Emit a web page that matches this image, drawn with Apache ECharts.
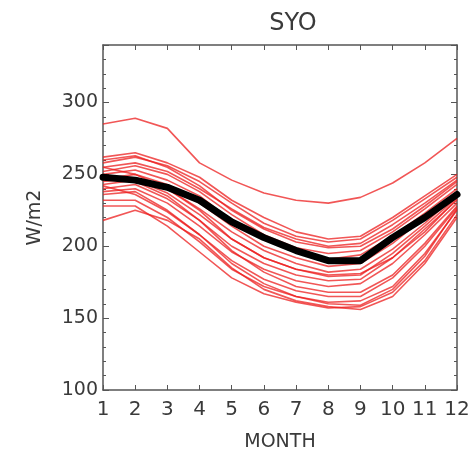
<!DOCTYPE html>
<html>
<head>
<meta charset="utf-8">
<script src="https://cdn.jsdelivr.net/npm/echarts@6/dist/echarts.min.js"></script>
<style>
  html, body { margin: 0; padding: 0; background: #fff; }
  #chart { width: 473px; height: 452px; }
</style>
</head>
<body>
<div id="chart"></div>
<script>
const months = [1, 2, 3, 4, 5, 6, 7, 8, 9, 10, 11, 12]
const yTicks = [100, 150, 200, 250, 300]

// individual members (red)
const members = [
  [285, 289, 282, 258, 246, 237, 232, 230, 234, 244, 258, 275],
  [262, 265, 258, 248, 232, 220, 210, 205, 207, 220, 235, 250],
  [258, 262, 256, 245, 230, 216, 207, 203, 205, 218, 233, 248],
  [255, 258, 252, 240, 226, 213, 205, 200, 202, 215, 230, 246],
  [260, 263, 255, 242, 225, 212, 203, 199, 200, 212, 228, 245],
  [252, 256, 250, 238, 222, 208, 199, 195, 197, 210, 226, 243],
  [250, 253, 246, 235, 218, 205, 196, 191, 194, 207, 223, 240],
  [247, 250, 243, 230, 214, 200, 192, 186, 188, 202, 220, 238],
  [245, 247, 240, 226, 210, 197, 188, 182, 184, 198, 216, 236],
  [243, 246, 237, 222, 205, 192, 184, 179, 180, 195, 214, 234],
  [240, 243, 233, 218, 200, 188, 180, 176, 177, 192, 212, 232],
  [238, 240, 230, 214, 196, 184, 176, 172, 174, 188, 208, 230],
  [248, 245, 235, 218, 197, 182, 172, 168, 168, 180, 202, 228],
  [236, 238, 225, 208, 190, 177, 169, 165, 165, 178, 200, 227],
  [232, 232, 220, 203, 184, 172, 165, 161, 162, 172, 195, 225],
  [228, 228, 214, 196, 178, 167, 161, 157, 158, 168, 190, 222],
  [218, 225, 218, 205, 185, 170, 162, 158, 156, 165, 188, 220],
  [242, 236, 224, 208, 188, 174, 165, 160, 159, 170, 193, 226],
  [255, 250, 240, 225, 205, 192, 184, 180, 181, 192, 210, 233]
]

// ensemble mean (black)
const mean = [248, 246, 241, 232, 217, 206, 197, 190, 190, 206, 220, 236]

const font = 'DejaVu Sans'
const axisColor = '#555'
const textColor = '#3a3a3a'

const series = members.map(function (m) {
  return {
    type: 'line',
    data: months.map(function (x, i) { return [x, m[i]] }),
    showSymbol: false,
    lineStyle: { color: 'rgba(236, 30, 30, 0.75)', width: 1.6 },
    silent: true
  }
})
series.push({
  type: 'line',
  data: months.map(function (x, i) { return [x, mean[i]] }),
  showSymbol: false,
  lineStyle: { color: '#000', width: 7, cap: 'round', join: 'round' },
  z: 5,
  silent: true
})

const chart = echarts.init(document.getElementById('chart'), null, { renderer: 'canvas' })
chart.setOption({
  animation: false,
  backgroundColor: '#fff',
  title: {
    text: 'SYO',
    left: 288,
    top: 7,
    textAlign: 'center',
    textStyle: { fontFamily: font, fontSize: 24, fontWeight: 'normal', color: textColor }
  },
  grid: { left: 103, right: 16, top: 45, bottom: 62, outerBoundsMode: 'none', containLabel: false },
  xAxis: [
    {
      type: 'value',
      min: 1,
      max: 12,
      interval: 1,
      name: 'MONTH',
      nameLocation: 'middle',
      nameGap: 43,
      nameTextStyle: { fontFamily: font, fontSize: 19, color: textColor },
      axisLine: { lineStyle: { color: axisColor, width: 1.5 } },
      axisTick: { inside: true, length: 5, lineStyle: { color: axisColor } },
      axisLabel: { fontFamily: font, fontSize: 20, color: textColor, margin: 10 },
      splitLine: { show: false }
    },
    {
      type: 'value',
      position: 'top',
      min: 1,
      max: 12,
      interval: 1,
      axisLine: { lineStyle: { color: axisColor, width: 1.5 } },
      axisTick: { inside: true, length: 5, lineStyle: { color: axisColor } },
      axisLabel: { show: false },
      splitLine: { show: false }
    }
  ],
  yAxis: [
    {
      type: 'value',
      min: 100,
      max: 340,
      interval: 50,
      name: 'W/m2',
      nameLocation: 'middle',
      nameGap: 58,
      nameTextStyle: { fontFamily: font, fontSize: 19, color: textColor },
      axisLine: { show: true, lineStyle: { color: axisColor, width: 1.5 } },
      axisTick: { show: true, inside: true, length: 6, lineStyle: { color: axisColor } },
      minorTick: { show: true, splitNumber: 5, length: 3, lineStyle: { color: axisColor } },
      axisLabel: {
        fontFamily: font, fontSize: 19, color: textColor, margin: 5,
        formatter: function (v) { return yTicks.indexOf(v) >= 0 ? String(v) : '' }
      },
      splitLine: { show: false }
    },
    {
      type: 'value',
      position: 'right',
      min: 100,
      max: 340,
      interval: 50,
      axisLine: { show: true, lineStyle: { color: axisColor, width: 1.5 } },
      axisTick: { show: true, inside: true, length: 6, lineStyle: { color: axisColor } },
      minorTick: { show: true, splitNumber: 5, length: 3, lineStyle: { color: axisColor } },
      axisLabel: { show: false },
      splitLine: { show: false }
    }
  ],
  series: series
})
</script>
</body>
</html>
